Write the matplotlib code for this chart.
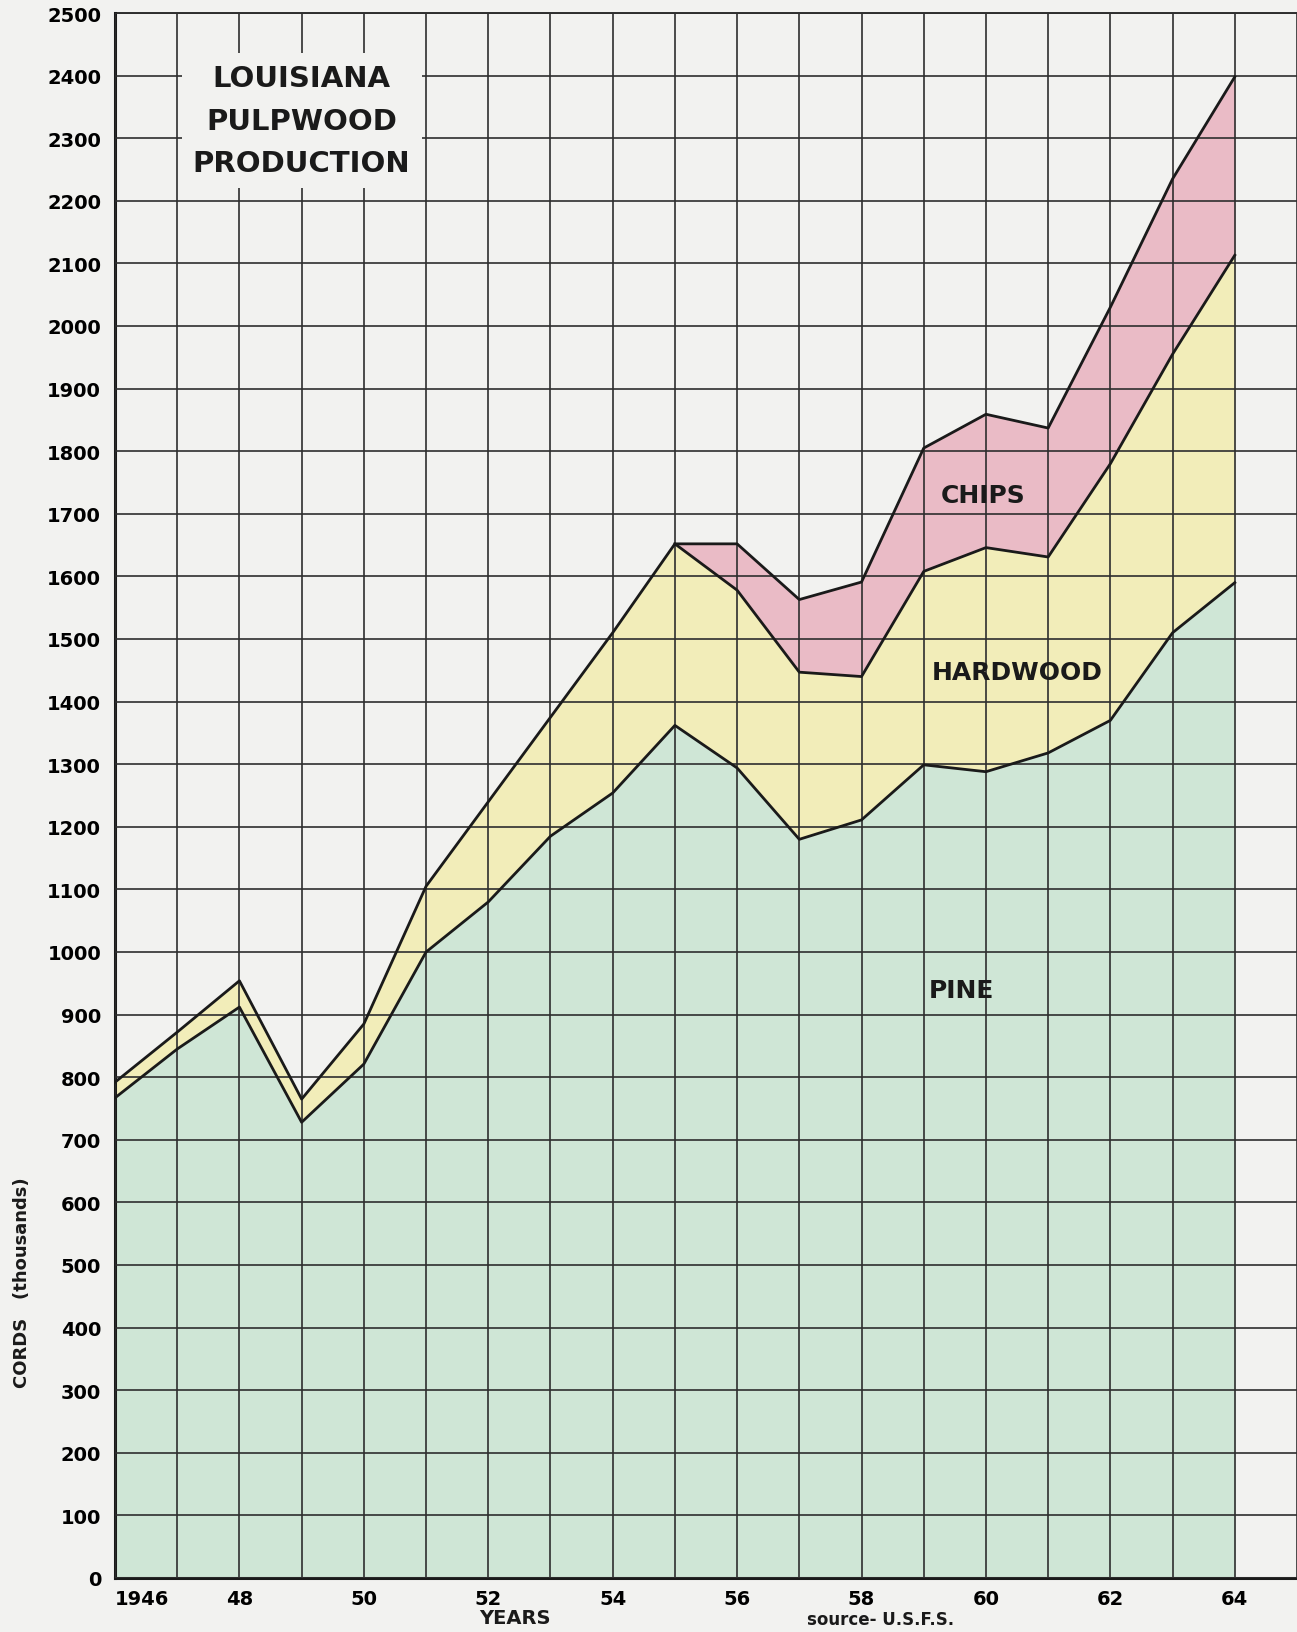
import matplotlib
matplotlib.use('Agg')
import matplotlib.pyplot as plt

# Louisiana pulpwood production, thousands of cords (values read as cumulative tops)
years = list(range(1946, 1965))
pine = [767, 845, 912, 728, 821, 1000, 1080, 1185, 1254, 1362, 1294, 1180, 1211,
        1299, 1288, 1318, 1370, 1510, 1590]
pine_hardwood = [792, 872, 954, 765, 885, 1105, 1240, 1375, 1510, 1652, 1578, 1447,
                 1440, 1608, 1646, 1631, 1780, 1955, 2113]
chips_years = list(range(1955, 1965))
pine_hardwood_chips = [1652, 1652, 1563, 1591, 1805, 1859, 1837, 2030, 2235, 2398]

tick_years = list(range(1946, 1966))
tick_labels = ['1946', '', '48', '', '50', '', '52', '', '54', '', '56', '', '58', '',
               '60', '', '62', '', '64', '']
y_ticks = list(range(0, 2600, 100))
y_labels = [str(v) for v in y_ticks]

bg = '#f2f2f0'
green = '#cfe6d6'
yellow = '#f2edb9'
pink = '#eabbc6'
ink = '#1a1a1a'

fig = plt.figure(figsize=(12.97, 16.33), dpi=100, facecolor=bg)
ax = fig.add_axes([115 / 1297, 54 / 1633, 1182 / 1297, 1565 / 1633])
ax.set_facecolor(bg)

# fills
hw_chip_base = pine_hardwood[chips_years[0] - years[0]:]
ax.fill_between(years, 0, pine, color=green, lw=0, zorder=1)
ax.fill_between(years, pine, pine_hardwood, color=yellow, lw=0, zorder=1)
ax.fill_between(chips_years, hw_chip_base, pine_hardwood_chips, color=pink, lw=0, zorder=1)

# outlines
ax.plot(years, pine, color=ink, lw=2, zorder=4)
ax.plot(years, pine_hardwood, color=ink, lw=2, zorder=4)
ax.plot(chips_years, pine_hardwood_chips, color=ink, lw=2, zorder=4)

ax.set_xlim(1946, 1965)
ax.set_ylim(0, 2500)
ax.set_xticks(tick_years)
ax.set_xticklabels(tick_labels)
ax.set_yticks(y_ticks)
ax.set_yticklabels(y_labels)
ax.set_axisbelow(False)
ax.grid(True, color='#2e2e2e', lw=1.2, zorder=2)
ax.tick_params(length=0, labelsize=14)
ax.tick_params(axis='x', pad=8)
ax.tick_params(axis='y', pad=10)
for lab in ax.get_xticklabels() + ax.get_yticklabels():
    lab.set_fontweight('bold')
ax.get_xticklabels()[0].set_ha('left')

for s in ['top', 'right']:
    ax.spines[s].set_visible(False)
ax.spines['left'].set_linewidth(2.2)
ax.spines['bottom'].set_linewidth(2.2)
ax.spines['left'].set_color(ink)
ax.spines['bottom'].set_color(ink)
ax.axhline(2500, color='#2e2e2e', lw=1.4, clip_on=False)

# title block
ax.text(1949.0, 2328, 'LOUISIANA\nPULPWOOD\nPRODUCTION', ha='center', va='center',
        fontsize=21, fontweight='bold', linespacing=1.65, color=ink, zorder=5,
        bbox=dict(facecolor=bg, edgecolor='none', pad=8))

# series labels
ax.text(1959.95, 1730, 'CHIPS', ha='center', va='center', fontsize=18,
        fontweight='bold', color=ink, zorder=5)
ax.text(1960.5, 1447, 'HARDWOOD', ha='center', va='center', fontsize=18,
        fontweight='bold', color=ink, zorder=5)
ax.text(1959.6, 940, 'PINE', ha='center', va='center', fontsize=18,
        fontweight='bold', color=ink, zorder=5)

fig.text(22 / 1297, 1 - 1283 / 1633, 'CORDS   (thousands)', rotation=90, ha='center',
         va='center', fontsize=13, fontweight='bold', color=ink)
fig.text(515 / 1297, 1 - 1619 / 1633, 'YEARS', ha='center', va='center', fontsize=14,
         fontweight='bold', color=ink)
fig.text(807 / 1297, 1 - 1620 / 1633, 'source- U.S.F.S.', ha='left', va='center',
         fontsize=12, fontweight='bold', color=ink)

fig.savefig('out.png', dpi=100, facecolor=bg)
